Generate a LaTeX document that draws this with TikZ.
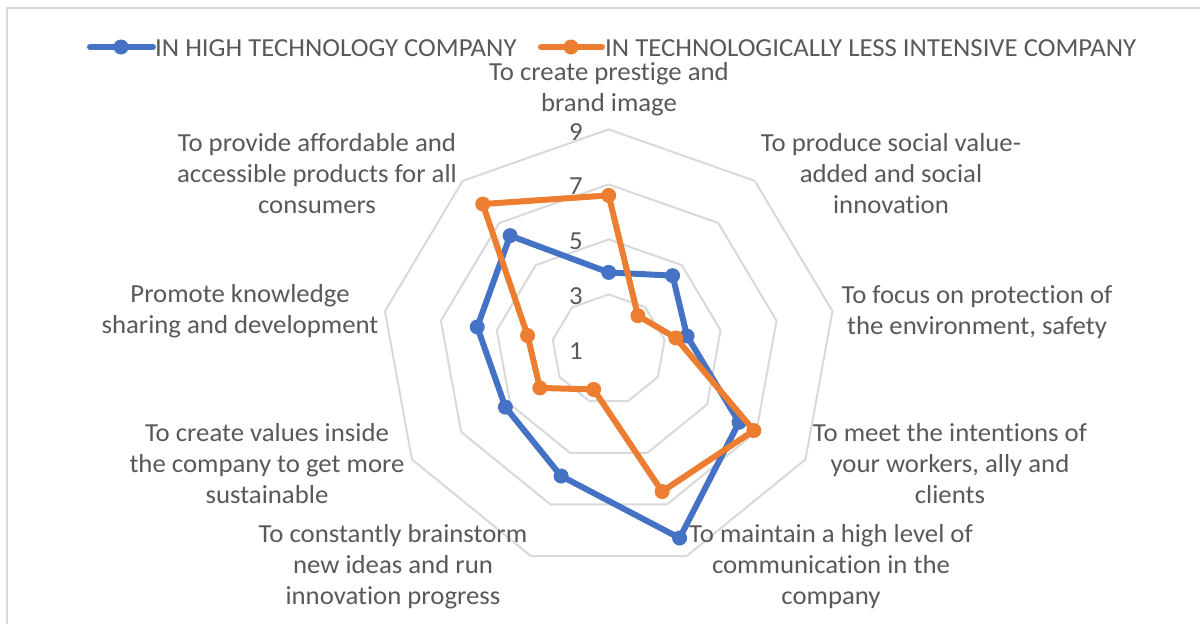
\documentclass[tikz,border=0pt]{standalone}
\usepackage{fontspec}
\setmainfont{Carlito}[FakeStretch=1.03, Ligatures={NoCommon}]
\definecolor{txt}{HTML}{595959}
\definecolor{gridc}{HTML}{D9D9D9}
\definecolor{blueS}{HTML}{4472C4}
\definecolor{orangeS}{HTML}{ED7D31}
\begin{document}
\begin{tikzpicture}[x=1pt,y=-1pt,
  lbl/.style={text=txt, font=\fontsize{26}{31}\selectfont, align=center, inner sep=0pt},
  num/.style={text=txt, font=\fontsize{26}{31}\selectfont, inner sep=0pt, anchor=east},
  legtxt/.style={text=txt, font=\fontsize{26}{31}\selectfont, inner sep=0pt, anchor=west},
  ring/.style={draw=gridc, line width=2pt, line join=round},
  hiline/.style={draw=blueS, line width=6pt, line join=round, line cap=round},
  loline/.style={draw=orangeS, line width=6pt, line join=round, line cap=round},
  himark/.style={circle, fill=blueS, minimum size=15pt, inner sep=0pt},
  lomark/.style={circle, fill=orangeS, minimum size=15pt, inner sep=0pt},
  frame/.style={draw=gridc, line width=1.5pt}
]
\useasboundingbox (0,0) rectangle (1200,624);
\fill[white] (0,0) rectangle (1200,624);
\draw[frame] (7,640) -- (7,8) -- (1210,8);

\coordinate (O) at (608.7,349.4);
\begin{scope}[shift={(O)}, x=28.4pt, y=27.5pt]
  \foreach \r in {2,4,6,8}
    \draw[ring] plot[samples at={90,50,...,-230}] (\x:\r) -- cycle;
  \foreach \v [count=\i from 0] in {3.8,4.5,3.8,6.3,8.3,5.9,5.2,5.7,6.4}
    \coordinate (h\i) at ({90-40*\i}:{\v-1});
  \foreach \v [count=\i from 0] in {6.6,2.6,3.4,6.9,6.5,2.55,3.8,3.9,7.9}
    \coordinate (o\i) at ({90-40*\i}:{\v-1});
\end{scope}

% axis values
\node[num] (n9) at (583,132) {9};
\node[num] (n7) at (583,186) {7};
\node[num] (n5) at (583,241) {5};
\node[num] (n3) at (583,296) {3};
\node[num] (n1) at (583,351) {1};

% series
\draw[hiline] (h0) -- (h1) -- (h2) -- (h3) -- (h4) -- (h5) -- (h6) -- (h7) -- (h8) -- cycle;
\foreach \i in {0,...,8} \node[himark] (hm\i) at (h\i) {};
\draw[loline] (o0) -- (o1) -- (o2) -- (o3) -- (o4) -- (o5) -- (o6) -- (o7) -- (o8) -- cycle;
\foreach \i in {0,...,8} \node[lomark] (om\i) at (o\i) {};

% category labels
\node[lbl] (l0) at (609,89.5) {\strut To create prestige and\\brand image\strut};
\node[lbl] (l1) at (891,176.5) {\strut To produce social value-\\added and social\\innovation\strut};
\node[lbl] (l2) at (977,312.5) {\strut To focus on protection of\\the environment, safety\strut};
\node[lbl] (l3) at (950,466.5) {\strut To meet the intentions of\\your workers, ally and\\clients\strut};
\node[lbl] (l4) at (831,567.5) {\strut To maintain a high level of\\communication in the\\company\strut};
\node[lbl] (l5) at (393,567.5) {\strut To constantly brainstorm\\new ideas and run\\innovation progress\strut};
\node[lbl] (l6) at (267,466.5) {\strut To create values inside\\the company to get more\\sustainable\strut};
\node[lbl] (l7) at (240,311.5) {\strut Promote knowledge\\sharing and development\strut};
\node[lbl] (l8) at (317,176.5) {\strut To provide affordable and\\accessible products for all\\consumers\strut};

% legend
\coordinate (lb1) at (90,47);
\coordinate (lb2) at (153,47);
\draw[hiline] (lb1) -- (lb2);
\node[himark] (lbm) at (121,47) {};
\node[legtxt] (lbt) at (155,48.5) {IN HIGH TECHNOLOGY COMPANY};
\coordinate (lo1) at (541,47);
\coordinate (lo2) at (602,47);
\draw[loline] (lo1) -- (lo2);
\node[lomark] (lom) at (571,47) {};
\node[legtxt] (lot) at (605,48.5) {IN TECHNOLOGICALLY LESS INTENSIVE COMPANY};
\end{tikzpicture}
\end{document}
